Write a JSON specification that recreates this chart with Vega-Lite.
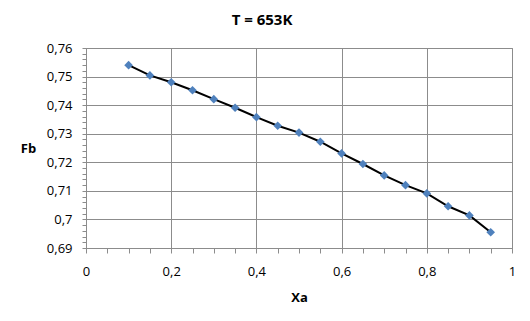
{
  "$schema": "https://vega.github.io/schema/vega-lite/v6.json",
  "width": 426,
  "height": 200,
  "autosize": {"type": "none"},
  "padding": {"left": 86, "top": 48, "right": 18, "bottom": 73},
  "background": "white",
  "title": {"text": "T = 653K", "fontSize": 15, "fontWeight": "bold", "font": "Open Sans", "color": "#000000", "offset": 14, "dx": -37},
  "config": {
    "view": {"stroke": "#8c8c8c", "strokeWidth": 1},
    "axis": {"labelFont": "Open Sans", "titleFont": "Open Sans", "labelFontSize": 13, "titleFontSize": 13, "labelColor": "#000000", "titleColor": "#000000", "domainColor": "#8c8c8c", "tickColor": "#8c8c8c", "gridColor": "#8c8c8c", "labelOverlap": false, "labelBound": false, "labelFlush": false}
  },
  "data": {"values": [
    {"Xa": 0.10, "Fb": 0.7540},
    {"Xa": 0.15, "Fb": 0.7504},
    {"Xa": 0.20, "Fb": 0.7480},
    {"Xa": 0.25, "Fb": 0.7452},
    {"Xa": 0.30, "Fb": 0.7421},
    {"Xa": 0.35, "Fb": 0.7391},
    {"Xa": 0.40, "Fb": 0.7358},
    {"Xa": 0.45, "Fb": 0.7328},
    {"Xa": 0.50, "Fb": 0.7304},
    {"Xa": 0.55, "Fb": 0.7272},
    {"Xa": 0.60, "Fb": 0.7231},
    {"Xa": 0.65, "Fb": 0.7194},
    {"Xa": 0.70, "Fb": 0.7154},
    {"Xa": 0.75, "Fb": 0.7120},
    {"Xa": 0.80, "Fb": 0.7091},
    {"Xa": 0.85, "Fb": 0.7046},
    {"Xa": 0.90, "Fb": 0.7014},
    {"Xa": 0.95, "Fb": 0.6955}
  ]},
  "mark": {"type": "line", "color": "#000000", "strokeWidth": 2, "point": {"shape": "diamond", "filled": true, "color": "#4F81BD", "size": 75, "opacity": 1}},
  "encoding": {
    "x": {"field": "Xa", "type": "quantitative", "scale": {"domain": [0, 1], "nice": false},
      "axis": {"title": "Xa", "titleFontWeight": "bold", "values": [0,0.05,0.1,0.15,0.2,0.25,0.3,0.35,0.4,0.45,0.5,0.55,0.6,0.65,0.7,0.75,0.8,0.85,0.9,0.95,1],
        "labelExpr": "abs(datum.value*5 - round(datum.value*5)) < 1e-6 ? replace(format(datum.value, '.1~f'), '.', ',') : ''",
        "gridOpacity": {"condition": {"test": "abs(datum.value*5 - round(datum.value*5)) < 1e-6", "value": 1}, "value": 0},
        "tickSize": 5, "labelPadding": 12, "titleY": 49, "titleBaseline": "middle"}},
    "y": {"field": "Fb", "type": "quantitative", "scale": {"domain": [0.69, 0.76], "nice": false, "zero": false},
      "axis": {"title": "Fb", "titleFontWeight": "bold", "titleAngle": 0, "titleX": -58, "titleY": 100, "titleAlign": "center", "titleBaseline": "middle",
        "values": [0.69,0.692,0.694,0.696,0.698,0.70,0.702,0.704,0.706,0.708,0.71,0.712,0.714,0.716,0.718,0.72,0.722,0.724,0.726,0.728,0.73,0.732,0.734,0.736,0.738,0.74,0.742,0.744,0.746,0.748,0.75,0.752,0.754,0.756,0.758,0.76],
        "labelExpr": "abs(datum.value*100 - round(datum.value*100)) < 1e-6 ? replace(format(datum.value, '.2~f'), '.', ',') : ''",
        "gridOpacity": {"condition": {"test": "abs(datum.value*100 - round(datum.value*100)) < 1e-6", "value": 1}, "value": 0},
        "tickSize": 4, "labelPadding": 10}}
  }
}
